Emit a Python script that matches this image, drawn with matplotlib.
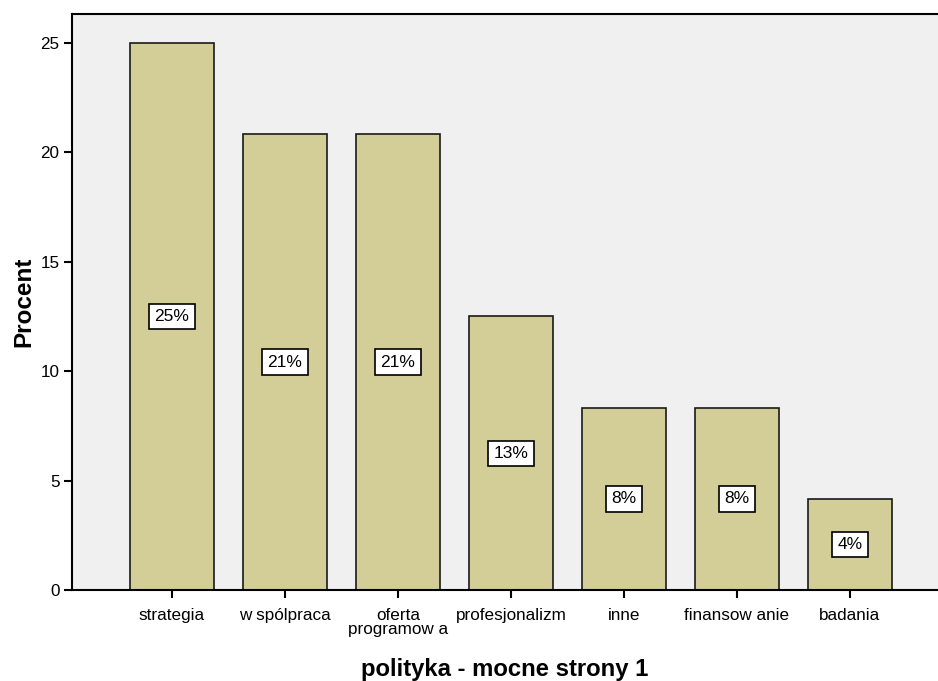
import matplotlib
matplotlib.use("Agg")
import matplotlib.pyplot as plt

categories = ["strategia", "w spólpraca", "oferta\nprogramow a", "profesjonalizm",
              "inne", "finansow anie", "badania"]
percent = [25.0, 20.83, 20.83, 12.5, 8.33, 8.33, 4.17]
labels = ["25%", "21%", "21%", "13%", "8%", "8%", "4%"]
yticks = [0, 5, 10, 15, 20, 25]

plt.rcParams['font.family'] = ['Liberation Sans', 'DejaVu Sans']

fig = plt.figure(figsize=(9.38, 6.81), dpi=100)
ax = fig.add_axes([72 / 938, 1 - 590 / 681, 1 - 72 / 938, (590 - 14) / 681])
ax.set_facecolor('#F0F0F0')

x = list(range(len(categories)))
ax.bar(x, percent, width=0.745, color='#D3CE98', edgecolor='#1a1a1a', linewidth=1.2, zorder=2)

for xi, v, lab in zip(x, percent, labels):
    ax.text(xi, v / 2, lab, ha='center', va='center', fontsize=12.5, zorder=3,
            bbox=dict(boxstyle='square,pad=0.3', facecolor='white', edgecolor='black', linewidth=1.2))

ax.set_xlim(-0.885, 6.78)
ax.set_ylim(0, 26.32)
ax.set_xticks(x)
ax.set_xticklabels(categories, fontsize=12.3, linespacing=0.95)
ax.set_yticks(yticks)
ax.tick_params(axis='both', direction='out', length=6, width=1.5, labelsize=12.3, pad=3)
ax.tick_params(axis='x', pad=7)

for side in ['left', 'bottom', 'top']:
    ax.spines[side].set_linewidth(1.5)
ax.spines['right'].set_visible(False)

ax.set_ylabel('Procent', fontsize=17.5, fontweight='bold', labelpad=4)
ax.set_xlabel('polityka - mocne strony 1', fontsize=17.2, fontweight='bold', labelpad=15)

fig.savefig('out.png', dpi=100)
